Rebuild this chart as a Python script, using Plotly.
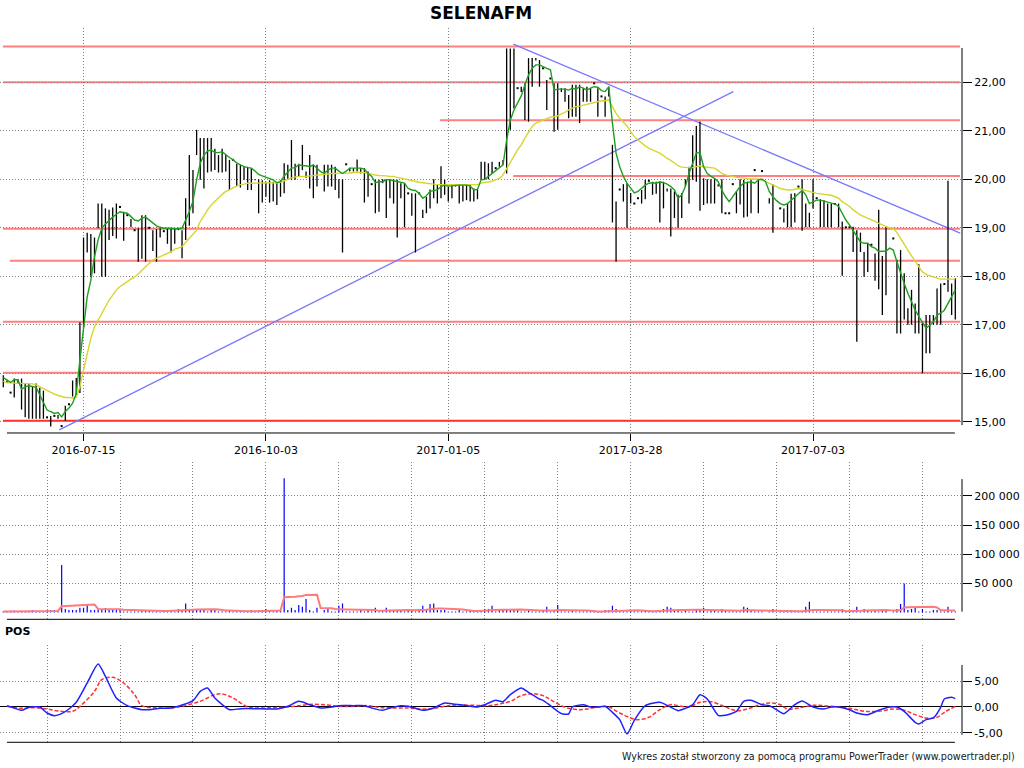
import numpy as np
import pandas as pd
import plotly.graph_objects as go

TITLE = "SELENAFM"
FOOTER = "Wykres został stworzony za pomocą programu PowerTrader (www.powertrader.pl)"

# x axis = bar index
date_tick_idx = [22, 72, 122, 172, 222]
date_tick_labels = ["2016-07-15", "2016-10-03", "2017-01-05", "2017-03-28", "2017-07-03"]
panel_grid_idx = [12, 32, 52, 72, 92, 112, 132, 152, 172, 192, 212, 232, 252]

price_ticks = [15, 16, 17, 18, 19, 20, 21, 22]
price_tick_labels = ["15,00", "16,00", "17,00", "18,00", "19,00", "20,00", "21,00", "22,00"]
vol_ticks = [50000, 100000, 150000, 200000]
vol_tick_labels = ["50 000", "100 000", "150 000", "200 000"]
pos_ticks = [-5, 0, 5]
pos_tick_labels = ["-5,00", "0,00", "5,00"]

high = [
    15.96, 15.85, 15.60, 15.89, 15.88, 15.89, 15.80, 15.79, 15.72, 15.79,
    15.70, 15.64, 15.09, 15.12, 15.12, 15.14, 14.91, 15.33, 15.36, 15.85,
    15.90, 17.05, 18.80, 18.90, 18.87, 18.80, 19.50, 19.50, 19.40, 19.37,
    19.42, 19.50, 19.43, 19.33, 19.26, 19.18, 18.95, 18.99, 19.26, 19.26,
    19.00, 18.95, 18.97, 18.99, 18.93, 18.99, 19.00, 18.99, 19.00, 18.95,
    19.61, 20.50, 20.19, 21.02, 20.85, 20.85, 20.85, 20.85, 20.63, 20.50,
    20.63, 20.50, 20.40, 20.40, 20.32, 20.30, 20.26, 20.26, 20.23, 20.00,
    20.00, 19.98, 19.95, 19.98, 19.95, 19.92, 19.98, 20.33, 20.30, 20.81,
    20.32, 20.32, 20.71, 20.16, 20.50, 20.30, 20.30, None, 20.30, 20.30,
    20.30, 20.26, 20.00, 20.00, 20.31, 20.24, 20.23, 20.41, 20.23, 20.23,
    20.16, 19.90, 19.99, 19.99, 20.00, 20.00, 20.00, 20.00, 19.99, 19.92,
    19.92, 19.71, 19.71, 19.71, 19.71, 19.37, 19.64, 19.79, 20.00, 19.88,
    20.27, 19.99, 19.85, 19.88, 19.90, 19.90, 19.88, 19.88, 19.88, 19.81,
    19.81, 20.36, 20.36, 20.33, 20.36, 20.23, 20.36, 20.40, 22.70, 22.70,
    22.70, 21.88, 21.91, 21.98, 22.50, 22.50, 22.50, 22.46, 22.29, 22.05,
    22.08, 21.98, 21.98, 21.88, 21.88, 21.74, 21.95, 21.95, 21.95, 21.88,
    21.91, 21.88, 21.98, 21.88, 21.71, 21.71, 21.91, 20.71, 19.54, 19.79,
    19.90, 19.92, 19.72, 19.50, 19.61, 19.78, 19.99, 19.97, 19.95, 19.95,
    19.95, 19.95, 19.81, 19.81, 19.75, 19.68, 19.72, 20.00, 20.26, 20.91,
    21.10, 21.19, 20.02, 20.00, 20.00, 20.00, 19.90, 20.00, 19.30, 19.30,
    19.90, 19.75, 20.00, 19.99, 19.95, 19.99, 20.19, 19.99, 20.17, None,
    19.61, 19.90, None, 19.40, 19.40, 19.50, 19.70, 19.71, 19.85, 20.00,
    19.50, 19.31, 20.00, 19.61, 19.59, 19.57, 19.50, 19.50, 19.49, 19.50,
    19.13, 19.01, 19.01, 19.02, 18.95, 18.90, 18.50, 18.68, 18.65, 18.47,
    19.37, 18.42, 19.01, None, 18.78, 18.34, 18.54, 18.06, 17.34, 17.72,
    17.44, 18.25, 17.06, 17.20, 17.20, 17.20, 17.75, 17.85, 17.84, 19.97,
    17.85, 17.96,
]

low = [
    15.71, 15.80, 15.60, 15.50, 15.80, 15.25, 15.09, 15.06, 15.06, 15.06,
    15.06, 15.06, 15.09, 14.90, 15.12, 15.06, 14.91, 15.02, 15.36, 15.52,
    15.55, 15.59, 16.94, 18.49, 17.99, 18.06, 18.99, 17.99, 17.99, 18.75,
    18.83, 18.78, 19.43, 18.73, 19.26, 19.01, 18.95, 18.30, 18.36, 18.30,
    19.00, 18.52, 18.30, 18.80, 18.93, 18.67, 18.49, 18.67, 18.95, 18.37,
    18.75, 19.04, 19.30, 20.50, 19.99, 19.81, 20.14, 20.16, 20.19, 20.14,
    20.14, 20.16, 19.78, 20.40, 19.86, 19.83, 19.99, 19.78, 19.78, 19.98,
    19.30, 19.52, 19.64, 19.52, 19.54, 19.47, 19.64, 19.71, 19.99, 19.99,
    19.99, 20.06, 20.19, 20.03, 19.81, 19.61, 19.85, None, 19.75, 19.85,
    19.85, 19.78, 19.61, 18.49, 20.31, 20.16, 20.16, 20.16, 20.12, 19.52,
    19.64, 19.90, 19.30, 19.33, 19.92, 19.20, 19.61, 19.50, 18.80, 19.61,
    19.01, 19.71, 19.25, 18.49, 19.71, 19.20, 19.30, 19.40, 19.61, 19.50,
    19.61, 19.68, 19.54, 19.61, 19.85, 19.50, 19.54, 19.57, 19.54, 19.54,
    19.59, 20.00, 19.99, 20.00, 20.12, 20.23, 20.26, 20.30, 20.12, 21.02,
    21.46, 21.88, 21.80, 21.22, 21.19, 21.91, 22.45, 21.91, 22.29, 21.43,
    22.08, 20.98, 21.02, 21.80, 21.60, 21.26, 21.29, 21.29, 21.16, 21.60,
    21.60, 21.60, 21.98, 21.29, 21.71, 21.29, 21.71, 19.11, 18.30, 19.79,
    19.54, 19.00, 19.50, 19.50, 19.61, 19.50, 19.59, 19.97, 19.68, 19.70,
    19.11, 19.40, 19.75, 18.82, 19.20, 19.00, 19.20, 19.85, 19.50, 19.99,
    19.95, 19.35, 19.47, 19.50, 19.50, 19.50, 19.85, 19.30, 19.30, 19.30,
    19.90, 19.30, 19.48, 19.21, 19.23, 19.30, 20.19, 19.30, 20.17, None,
    19.50, 18.90, None, 19.40, 19.11, 19.01, 19.01, 19.11, 19.85, 18.94,
    19.01, 19.01, 19.40, 19.61, 19.01, 19.01, 19.01, 19.01, 19.49, 19.01,
    18.01, 19.01, 19.01, 18.50, 16.65, 18.50, 17.99, 18.09, 18.65, 17.91,
    17.73, 17.20, 17.61, None, 18.78, 16.82, 16.82, 17.11, 17.00, 17.00,
    16.82, 16.82, 16.00, 16.41, 16.41, 17.00, 17.00, 17.00, 17.84, 17.68,
    17.20, 17.11,
]

ma_fast = [
    15.91, 15.86, 15.81, 15.87, 15.86, 15.67, 15.72, 15.74, 15.72, 15.71,
    15.55, 15.38, 15.24, 15.21, 15.17, 15.19, 15.10, 15.21, 15.28, 15.38,
    15.58, 16.27, 16.89, 17.58, 17.92, 18.40, 18.75, 18.99, 19.08, 19.16,
    19.22, 19.28, 19.33, 19.31, 19.30, 19.23, 19.16, 19.14, 19.20, 19.22,
    19.16, 19.09, 19.04, 19.01, 18.99, 18.99, 18.98, 18.98, 18.98, 18.99,
    19.16, 19.33, 19.55, 19.99, 20.33, 20.50, 20.58, 20.61, 20.55, 20.55,
    20.57, 20.50, 20.45, 20.40, 20.34, 20.30, 20.26, 20.24, 20.23, 20.17,
    20.10, 20.07, 20.04, 20.02, 19.99, 19.93, 19.95, 20.07, 20.16, 20.23,
    20.24, 20.30, 20.28, 20.28, 20.26, 20.30, 20.23, 20.16, 20.12, 20.19,
    20.23, 20.23, 20.17, 20.12, 20.17, 20.23, 20.23, 20.23, 20.23, 20.21,
    20.12, 20.06, 19.93, 19.95, 19.95, 19.99, 19.99, 19.97, 19.95, 19.93,
    19.92, 19.81, 19.78, 19.77, 19.71, 19.61, 19.66, 19.75, 19.77, 19.78,
    19.85, 19.88, 19.86, 19.87, 19.87, 19.88, 19.88, 19.88, 19.86, 19.78,
    19.79, 19.99, 20.00, 20.06, 20.12, 20.19, 20.25, 20.30, 20.81, 21.22,
    21.43, 21.57, 21.72, 21.95, 22.15, 22.29, 22.36, 22.36, 22.32, 22.29,
    22.26, 21.84, 21.86, 21.86, 21.86, 21.84, 21.88, 21.86, 21.91, 21.88,
    21.84, 21.88, 21.91, 21.90, 21.83, 21.81, 21.91, 21.16, 20.54, 20.26,
    20.06, 19.92, 19.81, 19.72, 19.75, 19.81, 19.88, 19.92, 19.93, 19.92,
    19.95, 19.93, 19.90, 19.85, 19.78, 19.61, 19.68, 19.85, 20.12, 20.33,
    20.54, 20.55, 20.26, 20.12, 20.06, 20.02, 19.95, 19.78, 19.64, 19.54,
    19.64, 19.75, 19.85, 19.92, 19.93, 19.95, 19.92, 19.99, 20.00, 19.95,
    19.75, 19.64, 19.56, 19.50, 19.47, 19.50, 19.57, 19.63, 19.70, 19.77,
    19.68, 19.50, 19.54, 19.57, 19.57, 19.55, 19.52, 19.50, 19.49, 19.44,
    19.30, 19.16, 19.06, 18.95, 18.82, 18.71, 18.68, 18.68, 18.61, 18.58,
    18.51, 18.51, 18.52, 18.58, 18.54, 18.30, 18.06, 17.85, 17.65, 17.48,
    17.30, 17.17, 17.06, 16.93, 16.99, 17.06, 17.20, 17.24, 17.30, 17.44,
    17.58, 17.72,
]

ma_slow = [
    15.83, 15.80, 15.80, 15.79, 15.79, 15.79, 15.79, 15.79, 15.78, 15.76,
    15.72, 15.69, 15.64, 15.60, 15.57, 15.54, 15.52, 15.50, 15.50, 15.49,
    15.50, 15.72, 16.07, 16.41, 16.72, 16.96, 17.10, 17.24, 17.37, 17.51,
    17.61, 17.72, 17.79, 17.85, 17.89, 17.94, 17.98, 18.05, 18.13, 18.20,
    18.27, 18.34, 18.37, 18.40, 18.44, 18.47, 18.51, 18.56, 18.58, 18.61,
    18.70, 18.78, 18.86, 18.95, 19.13, 19.26, 19.37, 19.47, 19.55, 19.63,
    19.69, 19.75, 19.78, 19.83, 19.86, 19.89, 19.90, 19.92, 19.92, 19.92,
    19.92, 19.92, 19.92, 19.92, 19.92, 19.93, 19.94, 19.97, 20.01, 20.03,
    20.05, 20.06, 20.06, 20.06, 20.07, 20.08, 20.09, 20.10, 20.10, 20.11,
    20.12, 20.12, 20.12, 20.12, 20.12, 20.13, 20.14, 20.14, 20.14, 20.14,
    20.12, 20.10, 20.09, 20.08, 20.08, 20.07, 20.06, 20.06, 20.04, 20.03,
    20.01, 19.99, 19.97, 19.96, 19.94, 19.93, 19.92, 19.90, 19.90, 19.89,
    19.89, 19.89, 19.89, 19.89, 19.89, 19.89, 19.89, 19.89, 19.89, 19.88,
    19.89, 19.92, 19.93, 19.94, 19.96, 19.99, 20.02, 20.09, 20.23, 20.36,
    20.48, 20.61, 20.71, 20.85, 20.98, 21.09, 21.16, 21.19, 21.22, 21.24,
    21.28, 21.29, 21.31, 21.35, 21.38, 21.43, 21.46, 21.50, 21.51, 21.53,
    21.55, 21.57, 21.58, 21.60, 21.62, 21.62, 21.64, 21.50, 21.36, 21.26,
    21.19, 21.10, 20.98, 20.88, 20.81, 20.74, 20.69, 20.64, 20.61, 20.57,
    20.54, 20.49, 20.43, 20.39, 20.33, 20.28, 20.25, 20.24, 20.24, 20.24,
    20.26, 20.28, 20.26, 20.25, 20.24, 20.23, 20.18, 20.12, 20.09, 20.07,
    20.06, 20.04, 20.03, 20.03, 20.01, 20.01, 20.01, 20.00, 20.00, 19.95,
    19.92, 19.88, 19.85, 19.81, 19.79, 19.78, 19.78, 19.79, 19.81, 19.79,
    19.77, 19.75, 19.72, 19.71, 19.70, 19.69, 19.68, 19.67, 19.64, 19.61,
    19.54, 19.49, 19.44, 19.37, 19.31, 19.26, 19.23, 19.20, 19.16, 19.13,
    19.09, 19.06, 19.02, 19.00, 18.99, 18.90, 18.78, 18.67, 18.54, 18.42,
    18.30, 18.20, 18.09, 18.04, 18.01, 17.98, 17.96, 17.94, 17.94, 17.94,
    17.94, 17.94,
]

volume = [
    1500, 1500, 1500, 2900, 1500, 1500, 1500, 1500, 4000, 1500,
    1500, 1500, 4000, 4000, 4000, 1500, 81300, 5700, 4000, 4000,
    4000, 8000, 8000, 12600, 4000, 4000, 5700, 5700, 7400, 4000,
    4000, 4000, 4000, 1500, 1500, 1500, 1500, 1500, 4000, 4000,
    4000, 1500, 1500, 1500, 1500, 1500, 4000, 1500, 5700, 4000,
    15500, 5700, 5700, 5700, 4000, 4000, 1500, 4000, 4000, 1500,
    1500, 1500, 4000, 1500, 1500, 1500, 1500, 1500, 4000, 1500,
    1500, 4000, 5700, 4000, 1500, 4000, 4000, 230300, 4000, 8000,
    4000, 12600, 9700, 22900, 4000, 1500, 8000, 0, 4000, 5700,
    1500, 1500, 11500, 15500, 1500, 1500, 1500, 1500, 4000, 1500,
    4000, 1500, 8000, 1500, 4000, 8000, 4000, 4000, 4000, 4000,
    1500, 4000, 4000, 1500, 4000, 11500, 5700, 14300, 15500, 4000,
    4000, 4000, 1500, 1500, 1500, 4000, 1500, 1500, 4000, 1500,
    4000, 2300, 5700, 5700, 11500, 1500, 4000, 4000, 5700, 5700,
    5700, 5700, 1500, 1500, 4000, 1500, 1500, 1500, 4000, 9700,
    1500, 4000, 12600, 1500, 1500, 1500, 4000, 1500, 1500, 1500,
    1500, 1500, 1500, 1500, 1500, 4000, 4000, 11500, 5700, 1500,
    1500, 1500, 4000, 1500, 1500, 1500, 4000, 1500, 1500, 1500,
    4000, 5700, 9700, 8000, 4000, 5700, 1500, 4000, 1500, 1500,
    5700, 4000, 8000, 1500, 4000, 4000, 1500, 5700, 4000, 1500,
    1500, 1500, 1500, 9700, 8000, 4000, 1500, 1500, 1500, 0,
    1500, 5700, 0, 1500, 1500, 1500, 4000, 1500, 1500, 1500,
    9700, 18300, 1500, 1500, 1500, 1500, 1500, 1500, 1500, 1500,
    5700, 1500, 1500, 4000, 9700, 1500, 5700, 4000, 1500, 4000,
    1500, 4000, 4000, 0, 1500, 5700, 14300, 49800, 4000, 5700,
    8000, 1500, 5700, 1500, 1500, 4000, 4000, 1500, 1500, 9700,
    1500, 1500,
]
VOL_MA_PERIOD = 10

pos_blue_idx = [1, 3, 5, 7, 10, 12, 14, 16, 18, 20, 23, 26, 28, 31, 34, 38, 40, 43, 46, 48,
                52, 54, 56, 58, 62, 65, 69, 72, 75, 78, 81, 84, 87, 90, 92, 96, 99, 101, 104, 106,
                109, 111, 113, 115, 118, 121, 123, 127, 130, 132, 135, 137, 139, 142, 144, 147, 148, 150, 153, 155,
                156, 159, 161, 163, 165, 167, 169, 171, 173, 176, 180, 182, 185, 187, 189, 191, 193, 196, 198, 201,
                203, 205, 208, 210, 212, 214, 217, 219, 222, 225, 227, 229, 232, 234, 237, 240, 243, 245, 247, 250,
                251, 253, 255, 257, 258, 260, 261]
pos_blue = [0.26, -0.19, -0.65, -0.06, 0.0, -1.17, -1.69, -1.30, -0.39, 0.91, 4.68, 8.38, 5.97, 1.75, 0.26, -0.52, -0.52, -0.26, -0.19, 0.13,
            1.23, 3.05, 3.70, 1.75, -0.52, -0.32, -0.32, -0.39, -0.39, 0.13, 1.10, 0.45, -0.19, 0.0, 0.26, 0.26, 0.26, -0.19, -0.65, -0.19,
            0.26, 0.13, -0.26, -0.65, -0.19, 0.78, 0.65, 0.26, 0.0, 0.45, 1.30, 1.04, 2.40, 3.70, 2.86, 1.56, 1.30, 0.26, -1.30, -1.36,
            0.0, 0.45, 0.0, 0.0, 0.13, -1.04, -2.47, -5.26, -2.60, 0.26, 0.91, 0.32, -0.71, -0.26, 0.45, 2.40, 1.56, -1.62, -1.62, -0.84,
            1.10, 1.30, 0.45, 0.26, -0.52, -1.30, 0.45, 1.17, 0.0, -0.39, 0.0, 0.0, -0.52, -1.17, -1.49, -0.65, 0.0, 0.0, -0.84, -2.99,
            -3.31, -2.47, -2.14, -0.06, 1.56, 1.88, 1.62]

pos_red_idx = [1, 5, 8, 12, 15, 19, 21, 25, 27, 30, 33, 36, 38, 42, 46, 49, 54, 58, 60, 63,
               67, 70, 74, 78, 81, 85, 89, 92, 96, 100, 103, 107, 111, 114, 118, 122, 125, 129, 133, 136,
               139, 142, 145, 148, 150, 153, 155, 158, 160, 163, 166, 169, 172, 174, 177, 180, 183, 185, 188, 191,
               194, 198, 201, 204, 207, 210, 213, 215, 218, 222, 225, 229, 233, 236, 240, 244, 247, 250, 253, 256,
               258, 261]
pos_red = [0.13, -0.26, -0.13, -0.39, -0.78, -0.84, 0.13, 3.05, 5.32, 5.78, 4.68, 2.40, 0.26, -0.19, -0.19, 0.13, 1.10, 2.40, 2.53, 1.75,
           0.0, -0.19, -0.13, 0.0, 0.26, 0.52, 0.39, 0.13, 0.13, 0.26, -0.06, -0.19, -0.19, -0.39, -0.26, 0.26, 0.39, 0.32, 0.26, 0.58,
           1.10, 2.21, 2.60, 2.21, 1.43, 0.26, -0.26, -0.52, -0.39, 0.0, 0.0, -1.17, -2.14, -2.47, -2.01, -0.52, 0.45, 0.26, 0.0, 0.91,
           1.04, 0.0, -0.71, -0.39, 0.32, 0.78, 0.45, -0.39, -0.19, 0.32, 0.26, 0.0, -0.39, -0.84, -0.84, -0.39, -0.65, -1.49, -2.14, -2.01,
           -1.04, 0.13]

# horizontal support / resistance levels and the bar where each starts
level_price = [22.74, 22.00, 21.22, 20.07, 18.98, 18.32, 17.06, 16.01, 15.02]
level_from = [-0.1, -0.1, 119.7, 139.8, -0.1, 1.8, -0.1, -0.1, -0.1]
level_to = 262.3

trend_up_idx = [15.35, 200.14]
trend_up_price = [14.83, 21.81]
trend_down_idx = [139.82, 262.35]
trend_down_price = [22.79, 18.89]

# ---------------------------------------------------------------------------
n = len(high)
idx = list(range(n))

bar_x, bar_y, dot_x, dot_y = [], [], [], []
for i, (h, l) in enumerate(zip(high, low)):
    if h is None:
        continue
    if h - l < 0.015:
        dot_x.append(i)
        dot_y.append(h)
    else:
        bar_x += [i, i, None]
        bar_y += [h, l, None]

vol_x, vol_y = [], []
for i, v in enumerate(volume):
    if v > 0:
        vol_x += [i, i, None]
        vol_y += [0, v, None]
vol_ma = pd.Series(volume, dtype=float).rolling(VOL_MA_PERIOD, min_periods=1).mean()

XR = [-0.905, 262.84]
DOM = [0, 962 / 1024]
GRID = "#808080"
FONT = "DejaVu Sans"

fig = go.Figure()

# price panel
fig.add_trace(go.Scatter(x=trend_up_idx, y=trend_up_price, mode="lines",
                         line=dict(color="#7878ff", width=1.3), xaxis="x", yaxis="y"))
fig.add_trace(go.Scatter(x=trend_down_idx, y=trend_down_price, mode="lines",
                         line=dict(color="#7878ff", width=1.3), xaxis="x", yaxis="y"))
fig.add_trace(go.Scatter(x=bar_x, y=bar_y, mode="lines", line=dict(color="black", width=1.3),
                         xaxis="x", yaxis="y"))
fig.add_trace(go.Scatter(x=dot_x, y=dot_y, mode="markers",
                         marker=dict(color="black", size=2, symbol="square"), xaxis="x", yaxis="y"))
fig.add_trace(go.Scatter(x=idx, y=ma_slow, mode="lines", line=dict(color="#d6d62e", width=1.4),
                         xaxis="x", yaxis="y"))
fig.add_trace(go.Scatter(x=idx, y=ma_fast, mode="lines", line=dict(color="#1e9e1e", width=1.4),
                         xaxis="x", yaxis="y"))

# volume panel
fig.add_trace(go.Scatter(x=vol_x, y=vol_y, mode="lines", line=dict(color="#0000ff", width=1.2),
                         xaxis="x2", yaxis="y2"))
fig.add_trace(go.Scatter(x=idx, y=vol_ma, mode="lines", line=dict(color="#ff7a7a", width=2),
                         xaxis="x2", yaxis="y2"))

# POS panel
fig.add_trace(go.Scatter(x=pos_red_idx, y=pos_red, mode="lines", line_shape="spline",
                         line=dict(color="#ff3030", width=1.5, dash="4px,2px"), xaxis="x3", yaxis="y3"))
fig.add_trace(go.Scatter(x=pos_blue_idx, y=pos_blue, mode="lines", line_shape="spline",
                         line=dict(color="#2020ff", width=1.5, smoothing=0.6), xaxis="x3", yaxis="y3"))

shapes = []
for p, f in zip(level_price, level_from):
    shapes.append(dict(type="line", xref="x", yref="y", x0=f, x1=level_to, y0=p, y1=p,
                       line=dict(color="#ff3030" if p < 15.5 else "#ff8080", width=2), layer="below"))
# axis lines (PowerTrader style, not meeting)
shapes += [
    dict(type="line", xref="x", yref="y domain", x0=1.0, x1=260.9, y0=0, y1=0, line=dict(color="black", width=1)),
    dict(type="line", xref="x2", yref="y2 domain", x0=1.0, x1=260.9, y0=0, y1=0, line=dict(color="black", width=1)),
    dict(type="line", xref="x3", yref="y3 domain", x0=1.0, x1=260.9, y0=0, y1=0, line=dict(color="black", width=1)),
    dict(type="line", xref="x domain", yref="y", x0=1, x1=1, y0=14.93, y1=22.71, line=dict(color="black", width=1)),
    dict(type="line", xref="x2 domain", yref="y2", x0=1, x1=1, y0=1200, y1=229000, line=dict(color="black", width=1)),
    dict(type="line", xref="x3 domain", yref="y3", x0=1, x1=1, y0=-5.4, y1=8.2, line=dict(color="black", width=1)),
]

common_x = dict(domain=DOM, range=XR, showline=False, zeroline=False, showgrid=True,
                gridcolor=GRID, griddash="1px,2px", gridwidth=1, fixedrange=True)
common_y = dict(side="right", showline=False, showgrid=True, gridcolor=GRID, griddash="1px,2px",
                gridwidth=1, ticks="outside", ticklen=9, tickcolor="black", tickwidth=1,
                tickfont=dict(family=FONT, size=11, color="black"), fixedrange=True)

fig.update_layout(
    width=1024, height=768, margin=dict(l=0, r=0, t=0, b=0, autoexpand=False),
    paper_bgcolor="white", plot_bgcolor="white", showlegend=False, hovermode=False,
    font=dict(family=FONT, size=11, color="black"),
    xaxis=dict(**common_x, anchor="y", tickmode="array", tickvals=date_tick_idx, ticktext=date_tick_labels,
               ticks="outside", ticklen=7, tickcolor="black", tickfont=dict(family=FONT, size=11, color="black")),
    yaxis=dict(**common_y, domain=[0.43620, 0.96354], range=[14.767, 23.121], anchor="x",
               tickmode="array", tickvals=price_ticks, ticktext=price_tick_labels, zeroline=False),
    xaxis2=dict(**common_x, anchor="y2", tickmode="array", tickvals=panel_grid_idx, showticklabels=False, ticks=""),
    yaxis2=dict(**common_y, domain=[0.19362, 0.39883], range=[-11856, 258935], anchor="x2",
                tickmode="array", tickvals=vol_ticks, ticktext=vol_tick_labels, zeroline=False),
    xaxis3=dict(**common_x, anchor="y3", tickmode="array", tickvals=panel_grid_idx, showticklabels=False, ticks=""),
    yaxis3=dict(**common_y, domain=[0.03346, 0.16016], range=[-6.88, 12.08], anchor="x3",
                tickmode="array", tickvals=pos_ticks, ticktext=pos_tick_labels,
                zeroline=True, zerolinecolor="black", zerolinewidth=1),
    shapes=shapes,
    annotations=[
        dict(text="<b>" + TITLE + "</b>", x=481 / 1024, y=1 - 13 / 768, xref="paper", yref="paper",
             showarrow=False, xanchor="center", yanchor="middle", font=dict(family=FONT, size=17, color="black")),
        dict(text="<b>POS</b>", x=3 / 1024, y=1 - 631.5 / 768, xref="paper", yref="paper",
             showarrow=False, xanchor="left", yanchor="middle", font=dict(family=FONT, size=11, color="black")),
        dict(text=FOOTER, x=1017 / 1024, y=1 - 756 / 768, xref="paper", yref="paper",
             showarrow=False, xanchor="right", yanchor="middle", font=dict(family=FONT, size=9.6, color="#202020")),
    ],
)

fig.write_html("out.html", config={"displayModeBar": False, "staticPlot": True},
               post_script="document.body.style.margin='0';document.body.style.padding='0';")
